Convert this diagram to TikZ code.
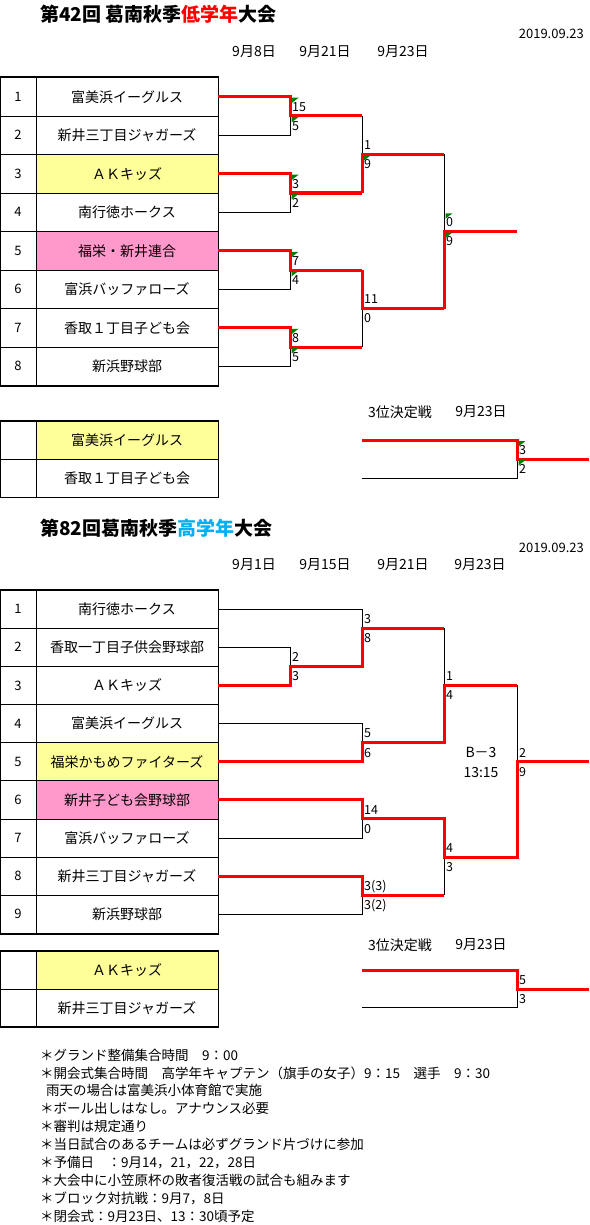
\documentclass[tikz,border=0pt]{standalone}
\usepackage{fontspec}
\setmainfont{Noto Sans CJK JP}
\usepackage{tikz}
\definecolor{KNRed}{RGB}{255,0,0}
\definecolor{KNBlue}{RGB}{0,176,240}
\definecolor{KNYellow}{RGB}{255,255,153}
\definecolor{KNPink}{RGB}{255,153,204}
\definecolor{KNGreen}{RGB}{0,128,0}

\begin{document}
\begin{tikzpicture}[x=1pt, y=-1pt,
    title/.style={anchor=west, inner sep=0pt, font=\fontsize{19}{22}\selectfont\bfseries},
    stamp/.style={anchor=east, inner sep=0pt, font=\fontsize{13}{15}\selectfont},
    day/.style={inner sep=0pt, font=\fontsize{14}{16}\selectfont},
    num/.style={draw, line width=0.8pt, minimum width=36pt, minimum height=#1,
                inner sep=0pt, font=\fontsize{13}{15}\selectfont},
    team/.style={draw, line width=0.8pt, minimum width=182pt, minimum height=#1,
                 inner sep=0pt, font=\fontsize{14}{16}\selectfont},
    frame/.style={line width=1.6pt},
    score/.style={anchor=west, inner sep=2pt, font=\fontsize{12.5}{14}\selectfont},
    win/.style={draw=KNRed, line width=3pt},
    lose/.style={draw=black, line width=0.9pt},
    note/.style={anchor=west, inner sep=0pt, font=\fontsize{13.5}{16}\selectfont}
  ]
  \useasboundingbox (0,0) rectangle (589,1225);

  % 低学年
  \node[title] (titleA) at (40,14) {第42回 葛南秋季\textcolor{KNRed}{低学年}大会};
  \node[stamp] (stampA) at (584,34) {2019.09.23};
  \foreach \n/\x/\t in {1/254/9月8日, 2/325/9月21日, 3/403/9月23日}
    \node[day] (dayA\n) at (\x,52) {\t};

  \foreach \i/\t/\c in {1/富美浜イーグルス/white, 2/新井三丁目ジャガーズ/white,
      3/ＡＫキッズ/KNYellow, 4/南行徳ホークス/white, 5/福栄・新井連合/KNPink,
      6/富浜バッファローズ/white, 7/香取１丁目子ども会/white, 8/新浜野球部/white}{
    \node[num=38.5pt] (na\i) at (18,{58.25+38.5*\i}) {\i};
    \node[team=38.5pt, fill=\c] (ta\i) at (127,{58.25+38.5*\i}) {\t};
  }
  \draw[frame] (na1.north west) rectangle (ta8.south east);

  \foreach \k in {1,...,4}
    \coordinate (ja\k) at (290,{77*\k+39});
  \coordinate (sa1) at (362,154.5);
  \coordinate (sa2) at (362,308.5);
  \coordinate (fa) at (444,231.5);
  \coordinate (wa) at (517,231.5);

  \foreach \k/\d in {1/2, 2/4, 3/6, 4/8}
    \draw[lose] (ta\d.east) -| (ja\k);
  \draw[lose] (ja1 -| sa1) -- (sa1);
  \draw[lose] (ja4 -| sa2) -- (sa2);
  \draw[lose] (sa1 -| fa) -- (fa);
  \foreach \k/\u in {1/1, 2/3, 3/5, 4/7}
    \draw[win] (ta\u.east) -| (ja\k) -- (ja\k -| sa1);
  \draw[win] (ja2 -| sa1) -- (sa1) -- (sa1 -| fa);
  \draw[win] (ja3 -| sa2) -- (sa2) -- (sa2 -| fa);
  \draw[win] (sa2 -| fa) -- (fa) -- (wa);

  \foreach \n/\x/\y/\a/\b in {ja1/290/116/15/5, ja2/290/193/3/2, ja3/290/270/7/4,
      ja4/290/347/8/5, sa1/362/154.5/1/9, sa2/362/308.5/11/0, fa/444/231.5/0/9}{
    \node[score] (\n-hi) at (\x,{\y-9}) {\a};
    \node[score] (\n-lo) at (\x,{\y+10}) {\b};
  }

  % 3位決定戦
  \node[day] (thirdA) at (400,412) {3位決定戦};
  \node[day] (thirdAd) at (481,412) {9月23日};
  \foreach \i/\t/\c in {1/富美浜イーグルス/KNYellow, 2/香取１丁目子ども会/white}{
    \node[num=38pt] (nb\i) at (18,{402+38*\i}) {};
    \node[team=38pt, fill=\c] (tb\i) at (127,{402+38*\i}) {\t};
  }
  \draw[frame] (nb1.north west) rectangle (tb2.south east);
  \coordinate (ob1) at (362,440);
  \coordinate (ob2) at (362,478);
  \coordinate (jb) at (517,459);
  \coordinate (wb) at (589,459);
  \draw[lose] (ob2) -| (jb);
  \draw[win] (ob1) -| (jb) -- (wb);
  \node[score] (jb-hi) at (517,450) {3};
  \node[score] (jb-lo) at (517,469) {2};

  \foreach \x/\y in {290/96.75, 290/116, 290/173.75, 290/193, 290/250.75, 290/270,
      290/327.75, 290/347, 362/154.5, 444/212.25, 444/231.5, 517/440, 517/459}
    \fill[KNGreen] (\x+1.5,\y+1) -- ++(7,0) -- ++(-7,5.5) -- cycle;

  % 高学年
  \node[title] (titleB) at (40,528) {第82回葛南秋季\textcolor{KNBlue}{高学年}大会};
  \node[stamp] (stampB) at (584,548) {2019.09.23};
  \foreach \n/\x/\t in {1/254/9月1日, 2/325/9月15日, 3/403/9月21日, 4/480/9月23日}
    \node[day] (dayB\n) at (\x,565) {\t};

  \foreach \i/\t/\c in {1/南行徳ホークス/white, 2/香取一丁目子供会野球部/white,
      3/ＡＫキッズ/white, 4/富美浜イーグルス/white, 5/福栄かもめファイターズ/KNYellow,
      6/新井子ども会野球部/KNPink, 7/富浜バッファローズ/white,
      8/新井三丁目ジャガーズ/white, 9/新浜野球部/white}{
    \node[num=38.15pt] (nc\i) at (18,{570.925+38.15*\i}) {\i};
    \node[team=38.15pt, fill=\c] (tc\i) at (127,{570.925+38.15*\i}) {\t};
  }
  \draw[frame] (nc1.north west) rectangle (tc9.south east);

  \coordinate (jc1) at (290,666.3);
  \coordinate (sc1) at (362,628.15);
  \coordinate (sc2) at (362,742.6);
  \coordinate (sc3) at (362,818.9);
  \coordinate (sc4) at (362,895.2);
  \coordinate (fc1) at (444,685.4);
  \coordinate (fc2) at (444,857.05);
  \coordinate (gc) at (517,761.7);
  \coordinate (wc) at (589,761.7);

  \draw[lose] (tc1.east) -| (sc1);
  \draw[lose] (tc2.east) -| (jc1);
  \draw[lose] (tc4.east) -| (sc2);
  \draw[lose] (tc7.east) -| (sc3);
  \draw[lose] (tc9.east) -| (sc4);
  \draw[lose] (sc1 -| fc1) -- (fc1);
  \draw[lose] (sc4 -| fc2) -- (fc2);
  \draw[lose] (fc1 -| gc) -- (gc);
  \draw[win] (tc3.east) -| (jc1) -- (jc1 -| sc1) -- (sc1) -- (sc1 -| fc1);
  \draw[win] (tc5.east) -| (sc2) -- (sc2 -| fc1) -- (fc1) -- (fc1 -| gc);
  \draw[win] (tc6.east) -| (sc3) -- (sc3 -| fc2) -- (fc2) -- (fc2 -| gc) -- (gc) -- (wc);
  \draw[win] (tc8.east) -| (sc4) -- (sc4 -| fc2);

  \foreach \n/\x/\y/\a/\b in {jc1/290/666.3/2/3, sc1/362/628.15/3/8, sc2/362/742.6/5/6,
      sc3/362/818.9/14/0, sc4/362/895.2/3(3)/3(2), fc1/444/685.4/1/4,
      fc2/444/857.05/4/3, gc/517/761.7/2/9}{
    \node[score] (\n-hi) at (\x,{\y-9}) {\a};
    \node[score] (\n-lo) at (\x,{\y+10}) {\b};
  }
  \node[day] (block) at (481,752) {B－3};
  \node[day] (start) at (481,772) {13:15};

  % 3位決定戦
  \node[day] (thirdB) at (400,945) {3位決定戦};
  \node[day] (thirdBd) at (481,945) {9月23日};
  \foreach \i/\t/\c in {1/ＡＫキッズ/KNYellow, 2/新井三丁目ジャガーズ/white}{
    \node[num=37.5pt] (nd\i) at (18,{932.75+37.5*\i}) {};
    \node[team=37.5pt, fill=\c] (td\i) at (127,{932.75+37.5*\i}) {\t};
  }
  \draw[frame] (nd1.north west) rectangle (td2.south east);
  \coordinate (od1) at (362,970.25);
  \coordinate (od2) at (362,1007.75);
  \coordinate (jd) at (517,989);
  \coordinate (wd) at (589,989);
  \draw[lose] (od2) -| (jd);
  \draw[win] (od1) -| (jd) -- (wd);
  \node[score] (jd-hi) at (517,980) {5};
  \node[score] (jd-lo) at (517,999) {3};

  % 連絡事項
  \foreach \n/\x/\t in {1/40/＊グランド整備集合時間　9：00,
      2/40/＊開会式集合時間　高学年キャプテン（旗手の女子）9：15　選手　9：30,
      3/46/雨天の場合は富美浜小体育館で実施,
      4/40/＊ボール出しはなし。アナウンス必要,
      5/40/＊審判は規定通り,
      6/40/＊当日試合のあるチームは必ずグランド片づけに参加,
      7/40/＊予備日　：9月14，21，22，28日,
      8/40/＊大会中に小笠原杯の敗者復活戦の試合も組みます,
      9/40/＊ブロック対抗戦：9月7，8日,
      10/40/＊閉会式：9月23日、13：30頃予定}
    \node[note] (note\n) at (\x,{1055+17.9*(\n-1)}) {\t};
\end{tikzpicture}
\end{document}
